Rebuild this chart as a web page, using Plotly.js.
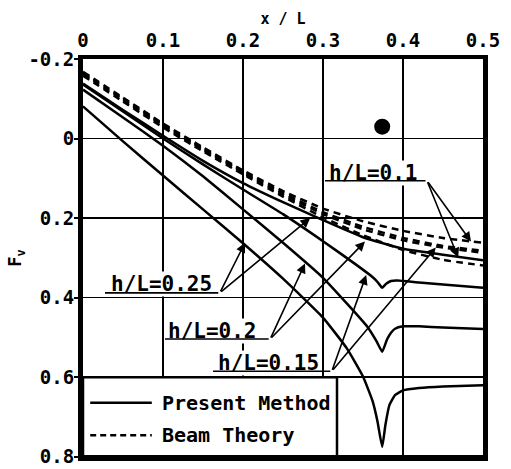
<!DOCTYPE html>
<html><head><meta charset="utf-8">
<script src="https://cdn.plot.ly/plotly-3.0.1.min.js"></script>
<style>html,body{margin:0;padding:0;background:#fff;overflow:hidden}#chart{width:511px;height:469px}</style>
</head><body><div id="chart"></div>
<script>
const xTickVals = [0, 0.1, 0.2, 0.3, 0.4, 0.5];
const xTickText = ["0", "0.1", "0.2", "0.3", "0.4", "0.5"];
const yTickVals = [-0.2, 0, 0.2, 0.4, 0.6, 0.8];
const yTickText = ["-0.2", "0", "0.2", "0.4", "0.6", "0.8"];

// Present Method (solid)
const xPM10 = [0, 0.05, 0.1, 0.15, 0.2, 0.25, 0.3, 0.35, 0.4, 0.45, 0.5];
const yPM10 = [-0.138, -0.072, -0.007, 0.056, 0.112, 0.16, 0.205, 0.248, 0.277, 0.292, 0.306];
const xPM15 = [0, 0.05, 0.1, 0.15, 0.2, 0.25, 0.3, 0.34, 0.36, 0.368, 0.374, 0.379, 0.385, 0.393, 0.42, 0.45, 0.5];
const yPM15 = [-0.136, -0.068, 0.0, 0.065, 0.128, 0.19, 0.258, 0.315, 0.345, 0.36, 0.375, 0.365, 0.358, 0.357, 0.362, 0.367, 0.375];
const xPM20 = [0, 0.05, 0.1, 0.15, 0.2, 0.25, 0.3, 0.33, 0.355, 0.367, 0.374, 0.38, 0.385, 0.39, 0.4, 0.42, 0.45, 0.5];
const yPM20 = [-0.123, -0.053, 0.018, 0.095, 0.178, 0.262, 0.35, 0.415, 0.472, 0.51, 0.536, 0.505, 0.488, 0.478, 0.472, 0.472, 0.475, 0.479];
const xPM25 = [0, 0.05, 0.1, 0.15, 0.2, 0.25, 0.3, 0.33, 0.35, 0.362, 0.368, 0.374, 0.378, 0.383, 0.39, 0.4, 0.42, 0.45, 0.5];
const yPM25 = [-0.081, 0.007, 0.093, 0.178, 0.263, 0.352, 0.45, 0.528, 0.598, 0.66, 0.71, 0.775, 0.72, 0.67, 0.645, 0.633, 0.627, 0.623, 0.62];

// Beam Theory (dashed)
const xBT = [0, 0.05, 0.1, 0.15, 0.2, 0.25, 0.3, 0.35, 0.4, 0.45, 0.5];
const yBT10 = [-0.168, -0.103, -0.038, 0.022, 0.08, 0.132, 0.176, 0.208, 0.232, 0.25, 0.262];
const yBT15 = [-0.165, -0.1, -0.035, 0.025, 0.083, 0.137, 0.185, 0.222, 0.25, 0.27, 0.282];
const yBT20 = [-0.162, -0.097, -0.032, 0.028, 0.086, 0.141, 0.19, 0.228, 0.256, 0.274, 0.287];
const yBT25 = [-0.158, -0.093, -0.028, 0.032, 0.09, 0.146, 0.198, 0.243, 0.28, 0.305, 0.319];

const dotX = [0.374];
const dotY = [-0.03];

const FONT = "DejaVu Sans Mono, monospace";
const solid = {color: '#000', width: 2.5, shape: 'spline', smoothing: 0.4};
const dashed = {color: '#000', width: 2.5, dash: '7px,5px', shape: 'spline', smoothing: 0.4};

const traces = [
  {x: xBT, y: yBT10, mode: 'lines', line: dashed, name: 'Beam Theory h/L=0.1'},
  {x: xBT, y: yBT15, mode: 'lines', line: dashed, name: 'Beam Theory h/L=0.15'},
  {x: xBT, y: yBT20, mode: 'lines', line: dashed, name: 'Beam Theory h/L=0.2'},
  {x: xBT, y: yBT25, mode: 'lines', line: dashed, name: 'Beam Theory h/L=0.25'},
  {x: xPM10, y: yPM10, mode: 'lines', line: solid, name: 'Present Method h/L=0.1'},
  {x: xPM15, y: yPM15, mode: 'lines', line: solid, name: 'Present Method h/L=0.15'},
  {x: xPM20, y: yPM20, mode: 'lines', line: solid, name: 'Present Method h/L=0.2'},
  {x: xPM25, y: yPM25, mode: 'lines', line: solid, name: 'Present Method h/L=0.25'},
  {x: dotX, y: dotY, mode: 'markers', marker: {color: '#000', size: 16}, name: 'point'}
];

function label(x, y, t) {
  return {x: x, y: y, xref: 'x', yref: 'y', text: t, showarrow: false, xanchor: 'left', yanchor: 'middle',
    bgcolor: '#fff', borderpad: 0, font: {family: FONT, size: 21, color: '#000', weight: 'bold'}};
}
function arrow(x, y, ax, ay, head) {
  return {x: x, y: y, ax: ax, ay: ay, xref: 'x', yref: 'y', axref: 'x', ayref: 'y', text: '',
    showarrow: true, arrowhead: head, arrowsize: 1.2, arrowwidth: 1.6, arrowcolor: '#000', standoff: 0, startstandoff: 0};
}

const annotations = [
  label(0.034, 0.365, 'h/L=0.25'),
  label(0.105, 0.484, 'h/L=0.2'),
  label(0.1675, 0.563, 'h/L=0.15'),
  label(0.306, 0.086, 'h/L=0.1'),
  // underlines
  arrow(0.0275, 0.388, 0.171, 0.388, 0),
  arrow(0.1025, 0.504, 0.234, 0.504, 0),
  arrow(0.1625, 0.585, 0.311, 0.585, 0),
  arrow(0.3025, 0.106, 0.43, 0.106, 0),
  // pointers
  arrow(0.2025, 0.262, 0.171, 0.388, 2),
  arrow(0.284, 0.2, 0.171, 0.388, 2),
  arrow(0.2775, 0.314, 0.234, 0.504, 2),
  arrow(0.3525, 0.259, 0.234, 0.504, 2),
  arrow(0.354, 0.343, 0.311, 0.585, 2),
  arrow(0.441, 0.274, 0.311, 0.585, 2),
  arrow(0.485, 0.259, 0.43, 0.106, 2),
  arrow(0.469, 0.299, 0.43, 0.106, 2),
  // legend texts
  {x: 0.0963, y: 0.664, xref: 'x', yref: 'y', text: 'Present Method', showarrow: false, xanchor: 'left', yanchor: 'middle',
    font: {family: FONT, size: 20, color: '#000', weight: 'bold'}},
  {x: 0.0963, y: 0.746, xref: 'x', yref: 'y', text: 'Beam Theory', showarrow: false, xanchor: 'left', yanchor: 'middle',
    font: {family: FONT, size: 20, color: '#000', weight: 'bold'}}
];

const shapes = [
  {type: 'rect', xref: 'x', yref: 'y', x0: 0, x1: 0.3175, y0: 0.6, y1: 0.8, fillcolor: '#fff', line: {color: '#000', width: 2.5}, layer: 'between'},
  {type: 'line', xref: 'x', yref: 'y', x0: 0.009, x1: 0.086, y0: 0.664, y1: 0.664, line: {color: '#000', width: 2.5}, layer: 'between'},
  {type: 'line', xref: 'x', yref: 'y', x0: 0.009, x1: 0.086, y0: 0.746, y1: 0.746, line: {color: '#000', width: 2.5, dash: '6px,4px'}, layer: 'between'},
  // bottom frame edge
  {type: 'line', xref: 'paper', yref: 'paper', x0: -0.006, x1: 1.006, y0: 0, y1: 0, line: {color: '#000', width: 4}, layer: 'above'}
];

const layout = {
  width: 511, height: 469,
  margin: {l: 83, r: 28, t: 59, b: 12},
  paper_bgcolor: '#fff', plot_bgcolor: '#fff',
  showlegend: false,
  font: {family: FONT, color: '#000', size: 18, weight: 'bold'},
  xaxis: {
    range: [0, 0.5], side: 'top', tickmode: 'array', tickvals: xTickVals, ticktext: xTickText,
    ticks: '', showgrid: true, gridcolor: '#000', gridwidth: 1.5, ticklabeloverflow: 'allow',
    showline: true, mirror: true, linecolor: '#000', linewidth: 4, zeroline: false,
    tickfont: {family: FONT, size: 19, color: '#000', weight: 'bold'},
    title: {text: 'x / L', font: {family: FONT, size: 15, color: '#000', weight: 'bold'}, standoff: 2}
  },
  yaxis: {
    range: [0.8005, -0.2], tickmode: 'array', tickvals: yTickVals, ticktext: yTickText,
    ticks: 'outside', ticklen: 4, tickwidth: 2, tickcolor: '#000', ticklabelstandoff: -4, ticklabeloverflow: 'allow',
    showgrid: true, gridcolor: '#000', gridwidth: 1.5,
    showline: true, mirror: true, linecolor: '#000', linewidth: 5, zeroline: false,
    tickfont: {family: FONT, size: 19, color: '#000', weight: 'bold'},
    title: {text: 'F<sub>v</sub>', font: {family: FONT, size: 17, color: '#000', weight: 'bold'}, standoff: 4}
  },
  shapes: shapes,
  annotations: annotations
};

Plotly.newPlot('chart', traces, layout, {staticPlot: true, displayModeBar: false});
</script>
</body></html>
